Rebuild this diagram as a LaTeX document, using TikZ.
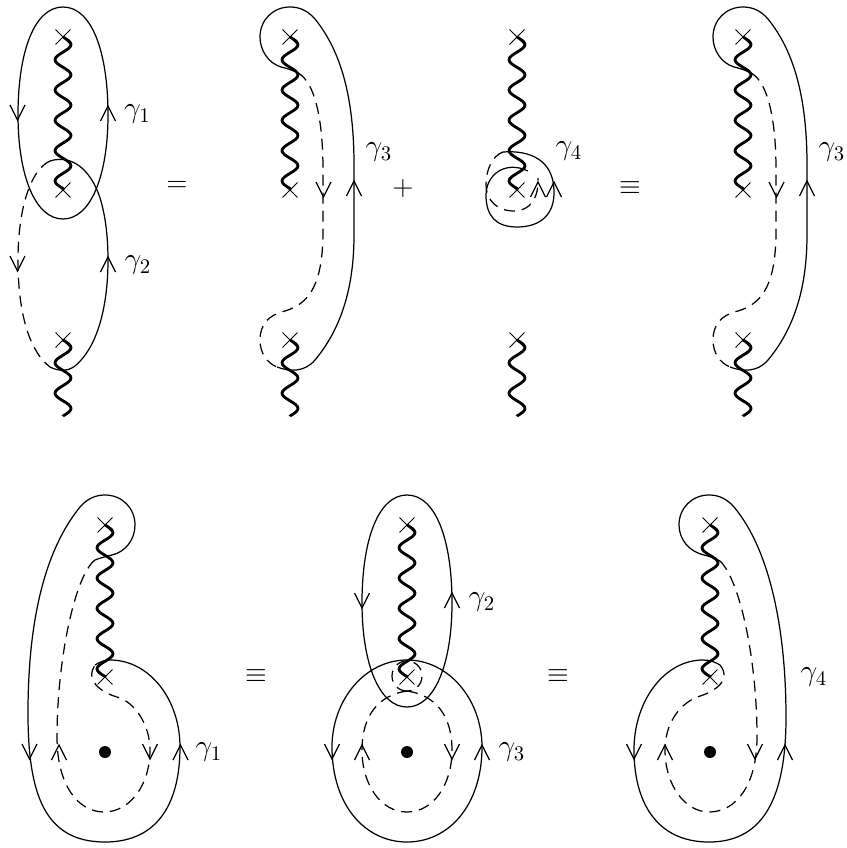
\documentclass[tikz,border=0pt]{standalone}
\usetikzlibrary{shapes.misc}
\tikzset{
  cut/.style={cross out,draw,line width=0.55pt,minimum size=0.28cm,inner sep=0pt},
  wiggle/.style={line width=1.6pt,line join=round},
  solid path/.style={line width=0.7pt},
  dash path/.style={line width=0.7pt,dash pattern=on 0.22cm off 0.14cm},
  tip/.style={line width=0.7pt},
  gam/.style={font=\Large,scale=1.18},
  op/.style={font=\Large,scale=1.1}
}
\begin{document}
\begin{tikzpicture}[x=0.02cm,y=-0.02cm]
	\useasboundingbox (0,0) rectangle (847,848);
	% branch points and cuts
	\foreach \n/\x/\y in {a1/63/37,a2/63/190,a3/63/340,b1/290/37,b2/290/190,b3/290/340,c1/517/37,c2/517/190,c3/517/340,d1/743/37,d2/743/190,d3/743/340,e1/105/525,e2/105/677,f1/407/525,f2/407/677,g1/710/525,g2/710/677}
		\node[cut] (\n) at (\x,\y) {};
	\foreach \n/\x in {a4/63,b4/290,c4/517,d4/743}
		\coordinate (\n) at (\x,416);
	\foreach \p/\q/\x/\y in {a1/a2/63/37,b1/b2/290/37,c1/c2/517/37,d1/d2/743/37,e1/e2/105/525,f1/f2/407/525,g1/g2/710/525}
		\draw[wiggle] (\p.center) -- plot[domain=0:5,samples=81,smooth,variable=\t] ({\x+8*sin(360*\t)},{\y+30.3*\t}) -- (\q.center);
	\foreach \p/\q/\x in {a3/a4/63,b3/b4/290,c3/c4/517,d3/d4/743}
		\draw[wiggle] (\p.center) -- plot[domain=0:2.5,samples=41,smooth,variable=\t] ({\x+8*sin(360*\t)},{340+30.4*\t}) -- (\q);
	\foreach \n/\x in {e0/105,f0/407,g0/710}
		\node[circle,fill,inner sep=0pt,minimum size=0.24cm] (\n) at (\x,752) {};
	% top left
	\draw[solid path] (63,7) .. controls (35,7) and (18,50) .. (18,115) .. controls (18,175) and (35,219) .. (63,219) .. controls (91,219) and (108,175) .. (108,115) .. controls (108,50) and (91,7) .. (63,7);
	\draw[solid path] (50,161) .. controls (72,154) and (90,170) .. (99,195) .. controls (106,215) and (108,240) .. (108,260) .. controls (108,300) and (100,345) .. (75,366) .. controls (67,372) and (58,371) .. (50,367);
	\draw[dash path] (50,161) .. controls (30,170) and (18,210) .. (18,260) .. controls (18,310) and (28,350) .. (50,367);
	% same curve twice in the top row
	\foreach \s in {0,453} {
		\begin{scope}[shift={(\s,0)}]
			\draw[solid path] (298,73) .. controls (290,69) and (285,68) .. (281,67) .. controls (268,63) and (260,50) .. (260,37) .. controls (260,20) and (273,7) .. (290,7) .. controls (300,7) and (308,11) .. (315,19) .. controls (340,50) and (354,95) .. (354,165) -- (354,235) .. controls (354,290) and (340,330) .. (315,360) .. controls (305,372) and (290,372) .. (277,367);
			\draw[dash path] (298,73) .. controls (315,82) and (323,120) .. (323,170) -- (323,230) .. controls (323,280) and (312,303) .. (285,311) .. controls (268,315) and (260,325) .. (260,340) .. controls (260,353) and (267,363) .. (277,367);
			\node[gam] (g3\s) at (379,152) {$\gamma_3$};
		\end{scope}
	}
	% small loop
	\draw[solid path] (503,152) .. controls (530,150) and (553,160) .. (554,190) .. controls (555,215) and (540,227) .. (517,227) .. controls (495,227) and (486,215) .. (486,195) .. controls (486,175) and (505,160) .. (528,171);
	\draw[dash path] (503,152) .. controls (492,156) and (486,170) .. (486,185) .. controls (486,200) and (497,211) .. (514,211) .. controls (530,211) and (539,198) .. (538,178);
	% bottom left
	\draw[solid path] (95,560) .. controls (103,557) and (108,556) .. (112,555) .. controls (125,552) and (135,540) .. (135,525) .. controls (135,508) and (122,495) .. (105,495) .. controls (95,495) and (87,499) .. (80,507) .. controls (45,550) and (28,620) .. (28,713) .. controls (28,795) and (45,842) .. (105,842) .. controls (160,842) and (180,800) .. (180,747) .. controls (180,700) and (150,660) .. (110,660) .. controls (104,660) and (100,662) .. (95,665);
	\draw[dash path] (95,560) .. controls (75,575) and (57,660) .. (57,737) .. controls (57,785) and (78,812) .. (104,812) .. controls (130,812) and (150,785) .. (150,750) .. controls (150,725) and (135,702) .. (117,697) .. controls (100,692) and (85,680) .. (95,665);
	% bottom middle
	\draw[solid path] (407,495) .. controls (379,495) and (362,538) .. (362,603) .. controls (362,663) and (379,707) .. (407,707) .. controls (435,707) and (452,663) .. (452,603) .. controls (452,538) and (435,495) .. (407,495);
	\draw[solid path] (407,660) .. controls (365,660) and (332,700) .. (332,747) .. controls (332,805) and (365,842) .. (407,842) .. controls (449,842) and (482,805) .. (482,747) .. controls (482,700) and (449,660) .. (407,660);
	\draw[dash path] (407,691) .. controls (435,695) and (452,715) .. (452,750) .. controls (452,785) and (433,812) .. (407,812) .. controls (381,812) and (362,785) .. (362,750) .. controls (362,715) and (379,695) .. (407,691);
	\draw[dash path] (407,691) .. controls (399,691) and (392,685) .. (392,676) .. controls (392,667) and (399,661) .. (407,661) .. controls (415,661) and (422,667) .. (422,676) .. controls (422,685) and (415,691) .. (407,691);
	% bottom right
	\draw[solid path] (720,561) .. controls (712,557) and (708,556) .. (704,555) .. controls (690,552) and (679,540) .. (679,525) .. controls (679,508) and (692,495) .. (709,495) .. controls (719,495) and (727,499) .. (734,507) .. controls (770,550) and (786,630) .. (786,717) .. controls (786,795) and (765,842) .. (709,842) .. controls (655,842) and (634,800) .. (634,750) .. controls (634,700) and (665,660) .. (703,660) .. controls (710,660) and (715,662) .. (720,665);
	\draw[dash path] (720,561) .. controls (740,580) and (757,660) .. (757,737) .. controls (757,785) and (736,812) .. (709,812) .. controls (685,812) and (665,785) .. (665,750) .. controls (665,725) and (678,705) .. (697,697) .. controls (715,692) and (732,680) .. (720,665);
	% arrows on the lines, tip given
	\foreach \x/\y in {17.5/120,17.5/271,323.5/197,776.5/197,29.5/759,150/759,332/759,452/759,634/759,755/759,362/608}
		\draw[tip] (\x-7.5,\y-15) -- (\x,\y) -- (\x+7.5,\y-15);
	\foreach \x/\y in {108/106,108/257,354/181,807/181,538/182,554/182,59/745,180.5/745,362/745,482/745,665/745,785/745,452/593}
		\draw[tip] (\x-7.5,\y+15) -- (\x,\y) -- (\x+7.5,\y+15);
	% labels
	\node[gam] (g1a) at (137.5,114) {$\gamma_1$};
	\node[gam] (g2a) at (138,265) {$\gamma_2$};
	\node[gam] (g4a) at (569,151) {$\gamma_4$};
	\node[gam] (g1b) at (209,752) {$\gamma_1$};
	\node[gam] (g2b) at (482,602) {$\gamma_2$};
	\node[gam] (g3b) at (512,752) {$\gamma_3$};
	\node[gam] (g4b) at (814,677) {$\gamma_4$};
	\node[op] (eq1) at (177,186) {$=$};
	\node[op] (pl1) at (403,189) {$+$};
	\node[op] (eq2) at (630,188) {$\equiv$};
	\node[op] (eq3) at (256,676) {$\equiv$};
	\node[op] (eq4) at (558,676) {$\equiv$};
\end{tikzpicture}
\end{document}
